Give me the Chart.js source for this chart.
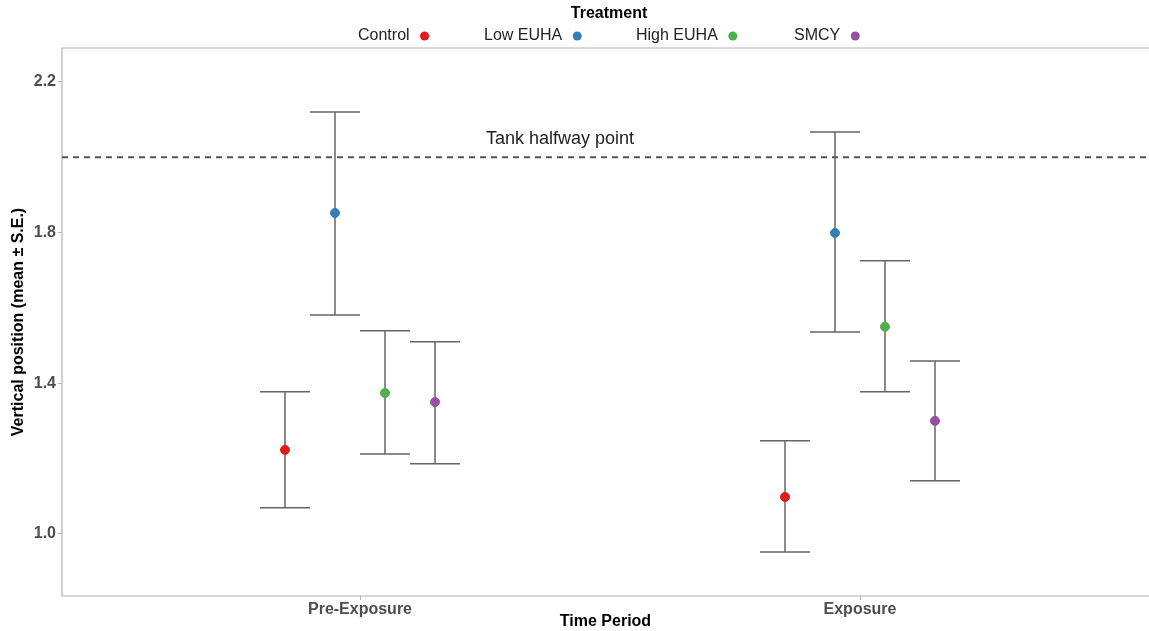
<!DOCTYPE html>
<html>
<head>
<meta charset="utf-8">
<script src="https://cdn.jsdelivr.net/npm/chart.js@4"></script>
<style>
  html, body { margin: 0; padding: 0; background: #fff; overflow: hidden; }
  #wrap { width: 1149px; height: 631px; position: relative; }
</style>
</head>
<body>
<div id="wrap"><canvas id="chart"></canvas></div>
<script>
// data
const periods = ["Pre-Exposure", "Exposure"];
const treatments = ["Control", "Low EUHA", "High EUHA", "SMCY"];
const colors = ["#E41A1C", "#377EB8", "#4DAF4A", "#984EA3"];
const dodge = [-0.15, -0.05, 0.05, 0.15];

// mean per treatment, [Pre-Exposure, Exposure]
const meanControl = [1.223, 1.098];
const meanLow = [1.852, 1.799];
const meanHigh = [1.374, 1.550];
const meanSmcy = [1.350, 1.300];

const lowerControl = [1.069, 0.952];
const lowerLow = [1.581, 1.536];
const lowerHigh = [1.212, 1.377];
const lowerSmcy = [1.186, 1.141];

const upperControl = [1.377, 1.247];
const upperLow = [2.120, 2.067];
const upperHigh = [1.539, 1.725];
const upperSmcy = [1.510, 1.459];

const yTicks = [1.0, 1.4, 1.8, 2.2];
const halfway = 2.0;
const halfwayLabel = "Tank halfway point";

const means = [meanControl, meanLow, meanHigh, meanSmcy];
const lowers = [lowerControl, lowerLow, lowerHigh, lowerSmcy];
const uppers = [upperControl, upperLow, upperHigh, upperSmcy];

const X_MIN = 0.404, X_MAX = 2.578;
const FONT = "'Liberation Sans', Arial, sans-serif";

const datasets = treatments.map((t, i) => ({
  type: "scatter",
  label: t,
  data: periods.map((p, j) => ({ x: j + 1 + dodge[i], y: means[i][j] })),
  backgroundColor: colors[i],
  borderColor: colors[i],
  pointRadius: 4.5,
  pointHoverRadius: 4.5,
  order: 1,
}));

datasets.push({
  type: "line",
  label: "halfway",
  data: [{ x: X_MIN, y: halfway }, { x: X_MAX, y: halfway }],
  borderColor: "#555555",
  borderWidth: 2,
  borderDash: [6, 5],
  pointRadius: 0,
  order: 3,
});

// ✅ error bars, panel border, legend and annotation text
const extras = {
  id: "extras",
  beforeDatasetsDraw(chart) {
    const { ctx, chartArea: a, scales } = chart;
    const x = scales.x, y = scales.y;
    ctx.save();
    // panel border (top, left, bottom)
    ctx.strokeStyle = "#b3b3b3";
    ctx.lineWidth = 1.2;
    ctx.beginPath();
    ctx.moveTo(a.right, a.top);
    ctx.lineTo(a.left, a.top);
    ctx.lineTo(a.left, a.bottom);
    ctx.lineTo(a.right, a.bottom);
    ctx.stroke();

    // error bars
    ctx.strokeStyle = "#666666";
    ctx.lineWidth = 1.5;
    treatments.forEach((t, i) => {
      periods.forEach((p, j) => {
        const cx = x.getPixelForValue(j + 1 + dodge[i]);
        const l = x.getPixelForValue(j + 1 + dodge[i] - 0.05);
        const r = x.getPixelForValue(j + 1 + dodge[i] + 0.05);
        const yl = y.getPixelForValue(lowers[i][j]);
        const yu = y.getPixelForValue(uppers[i][j]);
        ctx.beginPath();
        ctx.moveTo(cx, yl); ctx.lineTo(cx, yu);
        ctx.moveTo(l, yl); ctx.lineTo(r, yl);
        ctx.moveTo(l, yu); ctx.lineTo(r, yu);
        ctx.stroke();
      });
    });
    ctx.restore();
  },
  afterDraw(chart) {
    const { ctx, scales } = chart;
    ctx.save();
    // annotation
    ctx.fillStyle = "#222222";
    ctx.font = "18px " + FONT;
    ctx.textAlign = "center";
    ctx.textBaseline = "middle";
    ctx.fillText(halfwayLabel, scales.x.getPixelForValue(1.4), scales.y.getPixelForValue(halfway) - 18);

    // legend
    ctx.fillStyle = "#000";
    ctx.font = "bold 16px " + FONT;
    ctx.fillText("Treatment", 609, 14);
    ctx.font = "16px " + FONT;
    ctx.textAlign = "left";
    const startX = [358, 484, 636, 794];
    treatments.forEach((t, i) => {
      ctx.fillStyle = "#222";
      ctx.fillText(t, startX[i], 36);
      const w = ctx.measureText(t).width;
      ctx.fillStyle = colors[i];
      ctx.beginPath();
      ctx.arc(startX[i] + w + 15, 36, 4.5, 0, Math.PI * 2);
      ctx.fill();
    });
    ctx.restore();
  },
};

new Chart(document.getElementById("chart"), {
  data: { datasets },
  options: {
    responsive: true,
    maintainAspectRatio: false,
    animation: false,
    layout: { autoPadding: false, padding: { top: 48, right: 0, left: 0, bottom: 0 } },
    plugins: { legend: { display: false }, tooltip: { enabled: false } },
    scales: {
      x: {
        type: "linear",
        min: X_MIN,
        max: X_MAX,
        afterBuildTicks: (s) => { s.ticks = periods.map((p, j) => ({ value: j + 1 })); },
        afterFit: (s) => { s.height = 35; },
        grid: { drawOnChartArea: false, tickLength: 4, color: "#b3b3b3" },
        border: { display: false },
        ticks: {
          callback: (v) => periods[Math.round(v) - 1],
          color: "#4d4d4d",
          font: { family: FONT, size: 16, weight: "bold" },
          padding: 0,
          maxRotation: 0,
        },
        title: {
          display: true,
          text: "Time Period",
          color: "#000",
          font: { family: FONT, size: 16, weight: "bold" },
          padding: { top: 0, bottom: 0 },
        },
      },
      y: {
        min: 0.835,
        max: 2.29,
        afterBuildTicks: (s) => { s.ticks = yTicks.map((v) => ({ value: v })); },
        afterFit: (s) => { s.width = 62; },
        grid: { drawOnChartArea: false, tickLength: 4, color: "#b3b3b3" },
        border: { display: false },
        ticks: {
          callback: (v) => v.toFixed(1),
          color: "#4d4d4d",
          font: { family: FONT, size: 16, weight: "bold" },
          padding: 2,
        },
        title: {
          display: true,
          text: "Vertical position (mean ± S.E.)",
          color: "#000",
          font: { family: FONT, size: 16, weight: "bold" },
          padding: { top: 9, bottom: 0 },
        },
      },
    },
  },
  plugins: [extras],
});
</script>
</body>
</html>
